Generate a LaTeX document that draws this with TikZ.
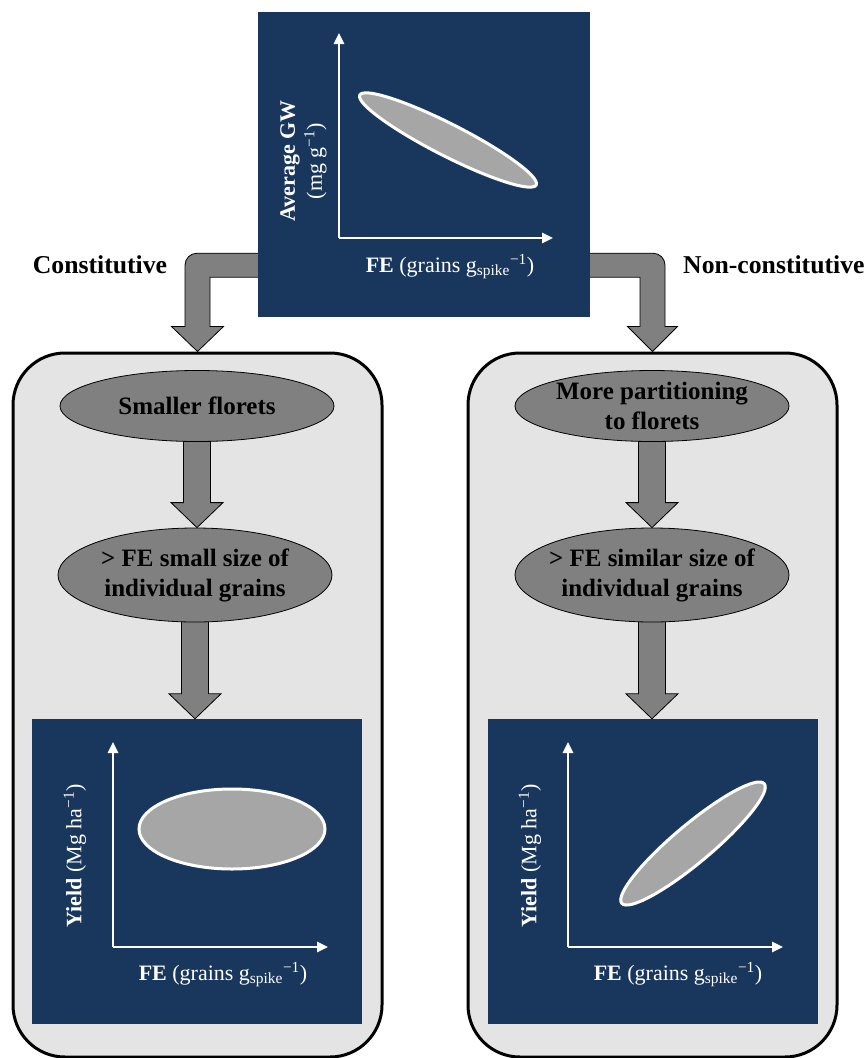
\documentclass[tikz,border=0pt]{standalone}
\usepackage{fontspec}
\setmainfont{Liberation Serif}
\usetikzlibrary{arrows.meta,calc,shapes.geometric}
\pgfdeclarelayer{back}
\pgfdeclarelayer{mid}
\pgfsetlayers{back,mid,main}
\definecolor{navy}{HTML}{19375D}
\definecolor{boxgray}{HTML}{E4E4E4}
\definecolor{stepgray}{HTML}{808080}
\definecolor{blobgray}{HTML}{A6A6A6}
\tikzset{
  panel/.style={fill=navy, minimum width=330pt, minimum height=305pt, inner sep=0pt},
  casebox/.style={draw=black, line width=3pt, fill=boxgray, rounded corners=52pt,
    minimum width=369pt, minimum height=704pt, inner sep=0pt},
  stepell/.style={ellipse, draw=black, line width=0.8pt, fill=stepgray, minimum width=274pt, inner sep=0pt},
  steptext/.style={font=\fontsize{25}{30}\selectfont\bfseries, align=center, inner sep=0pt},
  blockarrow/.style={draw=black, line width=0.8pt, fill=stepgray},
  axis/.style={white, line width=2.5pt, -{Triangle[length=11pt,width=10pt]}},
  blob/.style={draw=white, line width=3pt, fill=blobgray},
  axlabel/.style={text=white, font=\fontsize{22}{27}\selectfont, align=center, inner sep=0pt},
  branch/.style={font=\fontsize{25.7}{30}\selectfont\bfseries, inner sep=0pt}
}
% downward block arrow between two nodes
\newcommand{\steparrow}[2]{%
  \path[blockarrow] let \p1=(#1.south), \p2=(#2.north) in
    (\x1-13.5pt,\y1+5pt) -- (\x1+13.5pt,\y1+5pt) -- (\x1+13.5pt,\y2+25pt) -- (\x1+26pt,\y2+25pt)
    -- (\x1,\y2) -- (\x1-26pt,\y2+25pt) -- (\x1-13.5pt,\y2+25pt) -- cycle;}

\begin{document}
\begin{tikzpicture}[x=1pt,y=-1pt]
  \useasboundingbox (0,0) rectangle (866,1058);

  % the two cases
  \begin{pgfonlayer}{back}
    \node[casebox] (lbox) at (197.5,705) {};
    \node[casebox] (rbox) at (652.5,705) {};
  \end{pgfonlayer}

  % top plot
  \node[panel, minimum width=332pt] (top) at (424,164.5) {};
  \draw[axis] (339,238) -- (339,33);
  \draw[axis] (339,238) -- (553,238);
  \draw[blob, rotate around={-27:(448,140)}] (448,140) ellipse (99pt and 16pt);
  \node[axlabel, rotate=90] (topy) at (303.5,161) {\textbf{Average GW}\\(mg g\textsuperscript{−1})};
  \node[axlabel] (topx) at (450,267) {\textbf{FE} (grains g\textsubscript{spike}\textsuperscript{−1})};

  \node[branch] (const) at (100,265) {Constitutive};
  \node[branch, anchor=west] (nonconst) at (683,265) {Non-constitutive};

  \begin{pgfonlayer}{mid}
    \path[blockarrow] let \p1=(top.south west), \p2=(lbox.north) in
      (\x1+5pt,\y1+64pt) -- (\x2-0.5pt,\y1+64pt) arc[start angle=90, end angle=180, radius=12pt]
      -- (\x2-12.5pt,\y2+25pt) -- (\x2-26pt,\y2+25pt) -- (\x2,\y2) -- (\x2+26pt,\y2+25pt)
      -- (\x2+12.5pt,\y2+25pt) -- (\x2+12.5pt,\y1+40pt) -- (\x1+5pt,\y1+40pt) -- cycle;
    \path[blockarrow] let \p1=(top.south east), \p2=(rbox.north) in
      (\x1-5pt,\y1+64pt) -- (\x2+0.5pt,\y1+64pt) arc[start angle=90, end angle=0, radius=12pt]
      -- (\x2+12.5pt,\y2+25pt) -- (\x2+25pt,\y2+25pt) -- (\x2,\y2) -- (\x2-25pt,\y2+25pt)
      -- (\x2-12.5pt,\y2+25pt) -- (\x2-12.5pt,\y1+40pt) -- (\x1-5pt,\y1+40pt) -- cycle;
  \end{pgfonlayer}

  % constitutive
  \node[stepell, minimum height=71pt, label={[steptext]center:Smaller florets}] (lstep1) at (197,406) {};
  \node[stepell, minimum height=94pt, label={[steptext]center:{> FE small size of\\individual grains}}] (lstep2) at (195,575) {};
  \node[panel] (lplot) at (197,871.5) {};
  \draw[axis] (113,947) -- (113,742);
  \draw[axis] (113,947) -- (328,947);
  \draw[blob] (232,829) ellipse (93pt and 40pt);
  \node[axlabel, rotate=90] (lploty) at (75,856) {\textbf{Yield} (Mg ha\textsuperscript{−1})};
  \node[axlabel] (lplotx) at (223,975) {\textbf{FE} (grains g\textsubscript{spike}\textsuperscript{−1})};

  % non-constitutive
  \node[stepell, minimum height=71pt, label={[steptext]center:{More partitioning\\to florets}}] (rstep1) at (652,406) {};
  \node[stepell, minimum height=94pt, label={[steptext]center:{> FE similar size of\\individual grains}}] (rstep2) at (652,575) {};
  \node[panel] (rplot) at (653,871.5) {};
  \draw[axis] (568,947) -- (568,742);
  \draw[axis] (568,947) -- (783,947);
  \draw[blob, rotate around={40:(693,843.5)}] (693,843.5) ellipse (93pt and 19pt);
  \node[axlabel, rotate=90] (rploty) at (530,856) {\textbf{Yield} (Mg ha\textsuperscript{−1})};
  \node[axlabel] (rplotx) at (678,975) {\textbf{FE} (grains g\textsubscript{spike}\textsuperscript{−1})};

  \begin{pgfonlayer}{mid}
    \steparrow{lstep1}{lstep2}
    \steparrow{lstep2}{lplot}
    \steparrow{rstep1}{rstep2}
    \steparrow{rstep2}{rplot}
  \end{pgfonlayer}
\end{tikzpicture}
\end{document}
